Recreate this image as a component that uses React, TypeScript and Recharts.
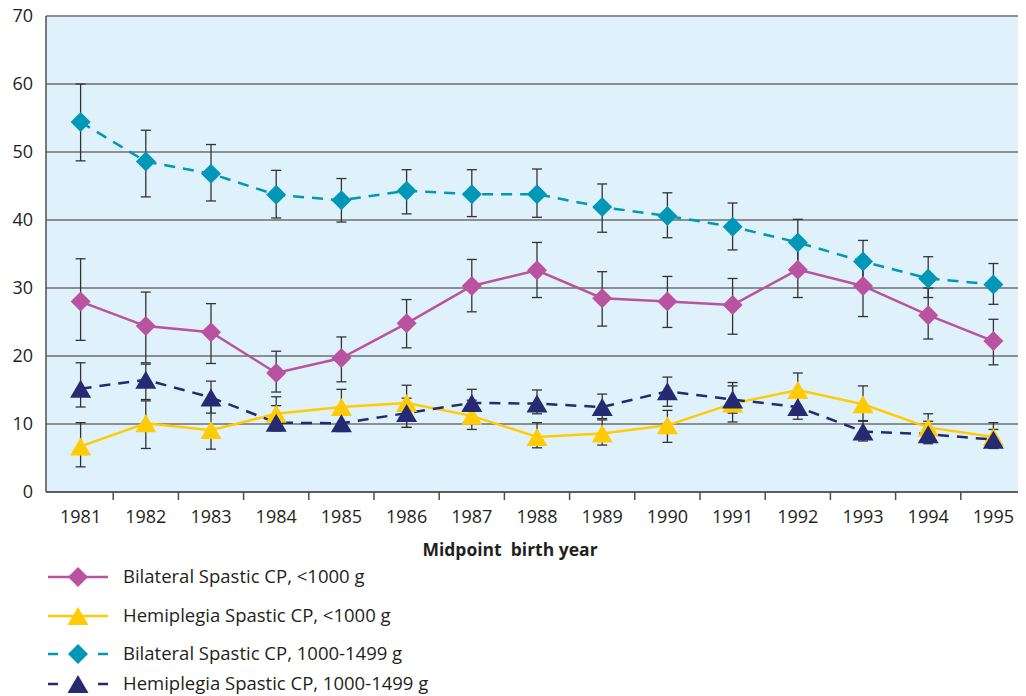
import React from "react";
import {
  LineChart,
  Line,
  XAxis,
  YAxis,
  CartesianGrid,
  ErrorBar,
  Legend,
} from "recharts";

const years = ["1981", "1982", "1983", "1984", "1985", "1986", "1987", "1988", "1989", "1990", "1991", "1992", "1993", "1994", "1995"];

// Bilateral spastic CP, <1000 g
const bilatLt1000 = [28.0, 24.4, 23.5, 17.5, 19.7, 24.8, 30.3, 32.6, 28.5, 28.0, 27.5, 32.7, 30.3, 26.0, 22.2];
const bilatLt1000Lo = [22.3, 19.0, 18.9, 14.7, 16.2, 21.2, 26.5, 28.6, 24.4, 24.2, 23.2, 28.6, 25.8, 22.5, 18.7];
const bilatLt1000Hi = [34.3, 29.4, 27.7, 20.7, 22.8, 28.3, 34.2, 36.7, 32.4, 31.7, 31.4, 36.7, 34.6, 30.0, 25.4];

// Hemiplegia spastic CP, <1000 g
const hemiLt1000 = [6.7, 10.1, 9.1, 11.5, 12.5, 13.1, 11.2, 8.1, 8.6, 9.8, 13.0, 15.0, 12.9, 9.5, 8.1];
const hemiLt1000Lo = [3.7, 6.4, 6.3, 9.0, 9.8, 9.5, 9.2, 6.5, 6.9, 7.3, 10.3, 12.5, 10.4, 7.5, 6.5];
const hemiLt1000Hi = [10.2, 13.4, 13.2, 14.0, 15.1, 15.7, 13.5, 10.2, 10.6, 12.0, 15.6, 17.5, 15.6, 11.5, 10.2];

// Bilateral spastic CP, 1000-1499 g
const bilat1000 = [54.4, 48.6, 46.8, 43.7, 42.9, 44.3, 43.8, 43.8, 41.9, 40.6, 39.0, 36.7, 33.9, 31.4, 30.5];
const bilat1000Lo = [48.7, 43.4, 42.8, 40.3, 39.7, 40.9, 40.5, 40.4, 38.2, 37.4, 35.6, 33.2, 30.8, 28.6, 27.6];
const bilat1000Hi = [60.0, 53.2, 51.1, 47.3, 46.1, 47.4, 47.4, 47.5, 45.3, 44.0, 42.5, 40.1, 37.0, 34.6, 33.6];

// Hemiplegia spastic CP, 1000-1499 g
const hemi1000 = [15.2, 16.5, 13.9, 10.2, 10.1, 11.6, 13.1, 13.0, 12.5, 14.8, 13.6, 12.5, 8.9, 8.5, 7.7];
const hemi1000Lo = [12.5, 13.6, 11.6, 9.0, 8.9, 9.5, 11.0, 11.5, 10.8, 12.6, 11.6, 10.7, 7.5, 7.1, 6.4];
const hemi1000Hi = [19.0, 18.8, 16.3, 12.7, 11.5, 13.8, 15.1, 15.0, 14.4, 16.9, 16.1, 14.5, 10.5, 10.4, 9.2];

const yTicks = [0, 10, 20, 30, 40, 50, 60, 70];

const series = [
  { key: "bl", name: "Bilateral Spastic CP, <1000 g", color: "#b9529f", shape: "diamond", dash: undefined },
  { key: "hl", name: "Hemiplegia Spastic CP, <1000 g", color: "#ffcb05", shape: "triangle", dash: undefined },
  { key: "bm", name: "Bilateral Spastic CP, 1000-1499 g", color: "#0098b6", shape: "diamond", dash: "11 8" },
  { key: "hm", name: "Hemiplegia Spastic CP, 1000-1499 g", color: "#262a72", shape: "triangle", dash: "11 8" },
];

const err = (v: number, lo: number, hi: number) => [+(v - lo).toFixed(2), +(hi - v).toFixed(2)];

const data = years.map((year, i) => ({
  year,
  bl: bilatLt1000[i],
  blErr: err(bilatLt1000[i], bilatLt1000Lo[i], bilatLt1000Hi[i]),
  hl: hemiLt1000[i],
  hlErr: err(hemiLt1000[i], hemiLt1000Lo[i], hemiLt1000Hi[i]),
  bm: bilat1000[i],
  bmErr: err(bilat1000[i], bilat1000Lo[i], bilat1000Hi[i]),
  hm: hemi1000[i],
  hmErr: err(hemi1000[i], hemi1000Lo[i], hemi1000Hi[i]),
}));

const W = 1018;
const H = 688;
const Y_W = 38;
const PAD_L = 2;
const BAND = (W - Y_W - PAD_L) / years.length;
const FONT = "'Open Sans', 'Noto Sans', sans-serif";
const TEXT = "#231f20";

function Marker({ shape, cx, cy, color }: any) {
  if (shape === "diamond") {
    const r = 10;
    return <path d={`M${cx},${cy - r}L${cx + r},${cy}L${cx},${cy + r}L${cx - r},${cy}Z`} fill={color} />;
  }
  const w = 10.5;
  const h = 9;
  return <path d={`M${cx},${cy - h}L${cx + w},${cy + h}L${cx - w},${cy + h}Z`} fill={color} />;
}

const makeDot = (shape: string, color: string) => (props: any) => {
  const { cx, cy, index } = props;
  if (cx == null || cy == null) return <g key={`n-${index}`} />;
  return <Marker key={`m-${index}`} shape={shape} cx={cx} cy={cy} color={color} />;
};

function XTick(props: any) {
  const { x, y, payload, index } = props;
  const last = index === years.length - 1;
  return (
    <g>
      {index > 0 && <line x1={x - BAND / 2} x2={x - BAND / 2} y1={y} y2={y + 8} stroke="#4d4d4f" strokeWidth={1.5} />}
      {last && <line x1={x + BAND / 2 - 1} x2={x + BAND / 2 - 1} y1={y} y2={y + 8} stroke="#4d4d4f" strokeWidth={1.5} />}
      <text x={x} y={y + 31} textAnchor="middle" fontSize={18} fontFamily={FONT} fill={TEXT}>
        {payload.value}
      </text>
    </g>
  );
}

function LegendBox() {
  const rows = [9, 48, 86, 116];
  return (
    <div style={{ position: "relative", height: 128, width: W, fontFamily: FONT }}>
      {series.map((s, i) => (
        <div key={s.key} style={{ position: "absolute", left: 0, top: rows[i] - 12, height: 24, width: 500 }}>
          <svg width={70} height={24} style={{ position: "absolute", left: 40, top: 0 }}>
            {s.dash ? (
              <>
                <line x1={0} x2={10} y1={12} y2={12} stroke={s.color} strokeWidth={2.5} />
                <line x1={50} x2={60} y1={12} y2={12} stroke={s.color} strokeWidth={2.5} />
              </>
            ) : (
              <line x1={0} x2={60} y1={12} y2={12} stroke={s.color} strokeWidth={2.5} />
            )}
            <Marker shape={s.shape} cx={30} cy={12} color={s.color} />
          </svg>
          <span style={{ position: "absolute", left: 115, top: -1, lineHeight: "24px", fontSize: 18.5, color: TEXT, whiteSpace: "nowrap" }}>
            {s.name}
          </span>
        </div>
      ))}
    </div>
  );
}

export default function App() {
  return (
    <div style={{ width: W, height: H }}>
      <style>{`svg.recharts-surface{overflow:visible}`}</style>
      <LineChart width={W} height={H} data={data} margin={{ top: 8, right: 0, left: 0, bottom: 0 }}>
        <CartesianGrid horizontal vertical={false} fill="#dff1fb" stroke="#6d6e71" strokeWidth={1.3} />
        <XAxis
          dataKey="year"
          scale="band"
          height={76}
          padding={{ left: PAD_L, right: 0 }}
          interval={0}
          tickSize={0}
          tickMargin={0}
          tickLine={false}
          axisLine={{ stroke: "#4d4d4f", strokeWidth: 1.5 }}
          tick={<XTick />}
          label={{
            value: "Midpoint  birth year",
            content: (p: any) => {
              const vb = p.viewBox;
              return (
                <text
                  x={vb.x + vb.width / 2 - 26}
                  y={vb.y + 64}
                  textAnchor="middle"
                  fontSize={17.5}
                  fontWeight="bold"
                  fontFamily={FONT}
                  fill={TEXT}
                  style={{ whiteSpace: "pre" }}
                >
                  Midpoint  birth year
                </text>
              );
            },
          }}
        />
        <YAxis
          width={Y_W}
          domain={[0, 70]}
          ticks={yTicks}
          interval={0}
          tickLine={false}
          tickSize={0}
          tickMargin={13}
          axisLine={{ stroke: "#4d4d4f", strokeWidth: 1.5 }}
          tick={{ fontSize: 18, fontFamily: FONT, fill: TEXT }}
        />
        <Legend verticalAlign="bottom" align="left" wrapperStyle={{ left: 0, width: W }} content={() => <LegendBox />} />
        {series.map((s) => (
          <Line
            key={s.key}
            dataKey={s.key}
            name={s.name}
            type="linear"
            stroke={s.color}
            strokeWidth={2.5}
            strokeDasharray={s.dash}
            dot={makeDot(s.shape, s.color)}
            activeDot={false}
            isAnimationActive={false}
          >
            <ErrorBar dataKey={`${s.key}Err`} direction="y" width={5} stroke="#333333" strokeWidth={1.3} />
          </Line>
        ))}
      </LineChart>
    </div>
  );
}
